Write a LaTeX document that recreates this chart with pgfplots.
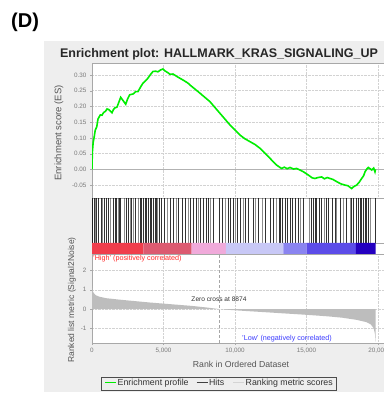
\documentclass[border=0pt]{standalone}
\usepackage{pgfplots}
\pgfplotsset{compat=1.18}
\usepackage{fontspec}
\setmainfont{Liberation Sans}
\definecolor{bggray}{HTML}{EEEEEE}
\definecolor{tickgray}{HTML}{7A7A7A}
\definecolor{framegray}{HTML}{A8A8A8}
\definecolor{labelgray}{HTML}{555555}
\definecolor{esgreen}{HTML}{00EE00}
\definecolor{cbA}{HTML}{F03E4C}
\definecolor{cbB}{HTML}{DC5A70}
\definecolor{cbC}{HTML}{F0AADA}
\definecolor{cbD}{HTML}{C8C8F6}
\definecolor{cbE}{HTML}{8A84F0}
\definecolor{cbF}{HTML}{5C4CE8}
\definecolor{cbG}{HTML}{2400C0}
\definecolor{hired}{HTML}{FF2A2A}
\definecolor{loblue}{HTML}{3A3AFF}
\definecolor{fillgray}{HTML}{BDBDBD}
\definecolor{hitgray}{HTML}{404040}
\definecolor{rankgray}{HTML}{D4D4D4}
\pgfplotsset{
  gsea/.style={
    scale only axis, width=297.7pt, xmin=0, xmax=20820,
    scaled x ticks=false, scaled y ticks=false,
    axis line style={framegray},
    tick style={framegray},
    tick align=outside, major tick length=2pt,
    tick label style={font=\fontsize{6.3}{7}\selectfont, text=tickgray},
    grid style={densely dotted, gray!35},
  }
}
\begin{document}
\begin{tikzpicture}
\useasboundingbox (0pt,0pt) rectangle (383pt,398pt);
\fill[bggray] (44pt,6pt) rectangle (400pt,356.5pt);
\node[font=\fontsize{20}{22}\selectfont\bfseries, anchor=west, inner sep=0pt] at (11pt,376pt) {(D)};
\node[font=\fontsize{12.5}{14}\selectfont\bfseries, text=black!85] at (219pt,344pt) {Enrichment plot: HALLMARK\_KRAS\_SIGNALING\_UP};

% ES panel
\begin{axis}[gsea, at={(92pt,200pt)}, anchor=south west, height=135pt,
  axis background/.style={fill=white},
  ymin=-0.091, ymax=0.338,
  xtick={0,5000,10000,15000,20000}, xticklabels={}, xtick style={draw=none},
  ytick={-0.05,0,0.05,0.1,0.15,0.2,0.25,0.3},
  yticklabels={-0.05,0.00,0.05,0.10,0.15,0.20,0.25,0.30},
  ytick pos=left, grid=major]
\addplot[gray!60, line width=0.7pt] coordinates {(0,0) (20820,0)};
\addplot[esgreen, line width=1.6pt] coordinates {
(0,0.0) (21,0.052) (80,0.085) (140,0.100) (231,0.125) (330,0.135) (420,0.160) (580,0.173)
(700,0.172) (800,0.180) (950,0.185) (1050,0.192) (1168,0.190)
(1399,0.180) (1500,0.190) (1587,0.195) (1750,0.198) (2007,0.229) (2357,0.207) (2500,0.225) (2636,0.237)
(2900,0.240) (3050,0.247) (3217,0.247)
(3400,0.262) (3566,0.274) (3750,0.282) (3916,0.290) (4100,0.302) (4266,0.311) (4450,0.312)
(4615,0.310) (4800,0.316) (4965,0.319) (5100,0.313) (5315,0.307)
(5450,0.302) (5664,0.303) (6014,0.293) (6400,0.283) (6713,0.274) (6853,0.268) (7552,0.242) (8252,0.215)
(8951,0.178) (9650,0.141) (10350,0.109) (10700,0.097) (11049,0.088) (11400,0.079) (11748,0.067) (12448,0.035)
(12900,0.014) (13147,0.006) (13266,0.003) (13450,0.007) (13650,0.002) (13846,0.006) (14100,0.001)
(14300,0.003) (14545,-0.002) (14800,-0.008) (15126,-0.018)
(15400,-0.027) (15594,-0.029) (15800,-0.026) (16063,-0.024) (16250,-0.030) (16450,-0.026)
(16643,-0.029) (16850,-0.032) (17112,-0.039) (17400,-0.046) (17692,-0.050)
(17900,-0.052) (18161,-0.061) (18300,-0.055) (18510,-0.050) (18700,-0.040) (18860,-0.029)
(19000,-0.020) (19091,-0.008) (19200,0.000) (19322,0.006) (19450,0.002)
(19559,-0.002) (19700,0.004) (19790,-0.008) (19830,0.0)};
\end{axis}

% Hits panel
\begin{axis}[gsea, at={(92pt,155pt)}, anchor=south west, height=45pt,
  axis background/.style={fill=white},
  ymin=0, ymax=1, xtick=\empty, ytick=\empty]
\addplot[ycomb, black, line width=0.95pt, opacity=0.8] coordinates {
(49,1) (161,1) (329,1) (441,1) (629,1) (839,1) (979,1) (1140,1) (1490,1) (1608,1)
(1727,1) (1909,1) (2007,1) (2427,1) (2538,1) (2776,1) (3007,1) (3357,1) (3476,1)
(3587,1) (3706,1) (3825,1) (3937,1) (4056,1) (4175,1) (4287,1) (4406,1) (4524,1)
(4706,1) (4874,1) (5035,1) (5503,1) (5685,1) (6035,1) (6343,1) (6503,1) (6853,1)
(7084,1) (7322,1) (7552,1) (7783,1) (7972,1) (8133,1) (8483,1) (8902,1) (9140,1)
(9531,1) (9699,1) (9881,1) (10161,1) (10399,1) (10699,1) (10930,1) (11280,1)
(11629,1) (12098,1) (12448,1) (12678,1) (13098,1) (13196,1) (13336,1) (13497,1)
(13657,1) (13846,1) (14035,1) (14196,1) (14427,1) (14776,1) (15364,1) (15476,1)
(15594,1) (15713,1) (15895,1) (16063,1) (16413,1) (16524,1) (16832,1) (16993,1)
(17343,1) (17811,1) (18161,1) (18273,1) (18462,1) (18622,1) (18741,1) (18860,1)
(18972,1) (19091,1) (19210,1) (19322,1) (19790,1)};
\addplot[ycomb, black, line width=0.6pt, opacity=0.45] coordinates {
(250,1) (720,1) (1300,1) (1820,1) (2250,1) (2650,1) (2900,1) (3250,1) (4600,1)
(5250,1) (5900,1) (6700,1) (7450,1) (8300,1) (9300,1) (10050,1) (10550,1)
(11450,1) (11900,1) (12900,1) (14550,1) (15200,1) (16250,1) (17100,1) (17600,1)
(18050,1) (19450,1)};
\end{axis}

% Colour bar
\begin{axis}[gsea, at={(92pt,144pt)}, anchor=south west, height=11pt,
  axis background/.style={fill=white},
  ymin=0, ymax=1, xtick=\empty, ytick=\empty]
\addplot[draw=none, fill=cbA, const plot] coordinates {(0,1) (3590,1)} \closedcycle;
\addplot[draw=none, fill=cbB, const plot] coordinates {(3590,1) (6970,1)} \closedcycle;
\addplot[draw=none, fill=cbC, const plot] coordinates {(6970,1) (9370,1)} \closedcycle;
\addplot[draw=none, fill=cbD, const plot] coordinates {(9370,1) (13380,1)} \closedcycle;
\addplot[draw=none, fill=cbE, const plot] coordinates {(13380,1) (15010,1)} \closedcycle;
\addplot[draw=none, fill=cbF, const plot] coordinates {(15010,1) (18460,1)} \closedcycle;
\addplot[draw=none, fill=cbG, const plot] coordinates {(18460,1) (19830,1)} \closedcycle;
\end{axis}

% Ranked metric panel
\begin{axis}[gsea, at={(92pt,55pt)}, anchor=south west, height=89pt,
  axis background/.style={fill=white},
  ymin=-1.76, ymax=2.85,
  ytick={-1,0,1,2}, yticklabels={-1,0,1,2}, ytick pos=left,
  xtick={0,5000,10000,15000,20000},
  xticklabels={0,{5,000},{10,000},{15,000},{20,000}}, xtick pos=bottom,
  grid=major]
\addplot[draw=none, fill=fillgray] coordinates {
(0,1.2) (30,1.0) (100,0.85) (250,0.72) (500,0.64) (1000,0.56) (2000,0.48)
(3000,0.41) (4000,0.34) (5000,0.28) (6000,0.22) (7000,0.16) (8000,0.08)
(8874,0) (9500,-0.04) (10500,-0.09) (12000,-0.16) (13500,-0.23) (15000,-0.30)
(16500,-0.38) (17500,-0.45) (18500,-0.56) (19200,-0.68) (19500,-0.80)
(19700,-1.0) (19790,-1.3) (19830,-1.7)} \closedcycle;
\addplot[gray!70, densely dashed, line width=0.5pt] coordinates {(8874,-1.76) (8874,2.85)};
\end{axis}

% Legend
\node[draw=black!70, line width=0.5pt, fill=bggray, inner xsep=3.5pt, inner ysep=2.4pt,
  font=\fontsize{8.8}{10}\selectfont, text=black!80] at (219pt,14.5pt)
  {\textcolor{esgreen}{\rule[2.5pt]{11pt}{1.5pt}}\,Enrichment profile\hspace{8pt}%
   \textcolor{hitgray}{\rule[2.8pt]{11pt}{0.9pt}}\,Hits\hspace{9pt}%
   \textcolor{rankgray}{\rule[2.8pt]{11pt}{0.9pt}}\,Ranking metric scores};

\node[rotate=90, font=\fontsize{9.5}{11}\selectfont, text=labelgray] at (59pt,265pt) {Enrichment score (ES)};
\node[rotate=90, font=\fontsize{8.5}{10}\selectfont, text=labelgray] at (72pt,98pt) {Ranked list metric (Signal2Noise)};
\node[font=\fontsize{8.7}{10}\selectfont, text=labelgray] at (241pt,34pt) {Rank in Ordered Dataset};
\node[font=\fontsize{7.2}{8}\selectfont, text=hired, anchor=west, inner sep=0pt] at (93pt,139.5pt) {'High' (positively correlated)};
\node[font=\fontsize{7.2}{8}\selectfont, text=loblue] at (287pt,59pt) {'Low' (negatively correlated)};
\node[font=\fontsize{6.6}{8}\selectfont, text=black!80] at (219pt,99pt) {Zero cross at 8874};
\end{tikzpicture}
\end{document}
